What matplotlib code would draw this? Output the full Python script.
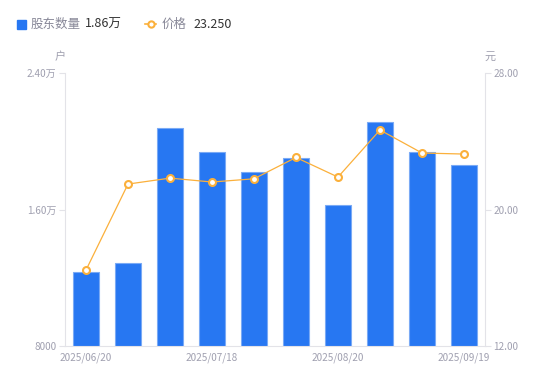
import matplotlib.pyplot as plt
import numpy as np

plt.rcParams['font.family'] = ['Noto Sans CJK SC', 'DejaVu Sans']

dates = ['2025/06/20', '2025/06/30', '2025/07/10', '2025/07/18', '2025/07/31',
         '2025/08/10', '2025/08/20', '2025/08/31', '2025/09/10', '2025/09/19']
holders = [12340, 12870, 20780, 19370, 18200, 19020, 16260, 21130, 19370, 18600]
price = [16.45, 21.49, 21.84, 21.61, 21.80, 23.05, 21.90, 24.66, 23.31, 23.25]

blue = '#2777f2'
orange = '#fbb03b'
grey = '#a0a0b0'
axc = '#e3e3e8'

fig = plt.figure(figsize=(5.5, 3.81), dpi=100)
ax = fig.add_axes([65/550, 35/381, 420/550, 273/381])
x = np.arange(len(dates))
ax.bar(x, holders, width=0.6, color=blue, edgecolor='#7aaaf5', linewidth=0.8, zorder=2)
ax.set_xlim(-0.5, len(dates) - 0.5)
ax.set_ylim(8000, 24000)
ax.set_yticks([8000, 16000, 24000])
ax.set_yticklabels(['8000', '1.60万', '2.40万'])
ax.set_xticks(x[::3])
ax.set_xticklabels([dates[i] for i in x[::3]])

ax2 = ax.twinx()
ax2.plot(x, price, color=orange, lw=0.9, marker='o', ms=5, mfc='white',
         mec=orange, mew=1.5, zorder=3)
ax2.set_ylim(12, 28)
ax2.set_yticks([12, 20, 28])
ax2.set_yticklabels(['12.00', '20.00', '28.00'])

for a in (ax, ax2):
    for s in a.spines.values():
        s.set_visible(False)
    a.tick_params(colors=grey, labelsize=7.2, length=4, width=0.8, pad=2)
    a.tick_params(axis='y', color=axc)
ax.spines['left'].set_visible(True)
ax.spines['left'].set_color(axc)
ax.spines['bottom'].set_visible(True)
ax.spines['bottom'].set_color(axc)
ax2.spines['right'].set_visible(True)
ax2.spines['right'].set_color(axc)
ax.tick_params(axis='x', length=0, pad=5)

fig.text(60/550, 1 - 57/381, '户', color=grey, fontsize=8, ha='center', va='center')
fig.text(490/550, 1 - 57/381, '元', color=grey, fontsize=8, ha='center', va='center')

# legend
ly = 1 - 24/381
fig.patches.append(plt.Rectangle((17/550, 1 - 29/381), 9/550, 9/381, color=blue,
                                 transform=fig.transFigure, figure=fig))
fig.text(31/550, ly, '股东数量', color='#888898', fontsize=9, va='center')
fig.text(85/550, ly, '1.86万', color='#333333', fontsize=9, va='center')
fig.add_artist(plt.Line2D([145/550, 156/550], [ly, ly], color=orange, lw=1.2,
                          transform=fig.transFigure))
fig.add_artist(plt.Line2D([150.5/550], [ly], color=orange, marker='o', ms=4.5,
                          mfc='white', mec=orange, mew=1.5, transform=fig.transFigure))
fig.text(162/550, ly, '价格', color='#888898', fontsize=9, va='center')
fig.text(193/550, ly, '23.250', color='#333333', fontsize=9, va='center')

fig.savefig('out.png', dpi=100)
